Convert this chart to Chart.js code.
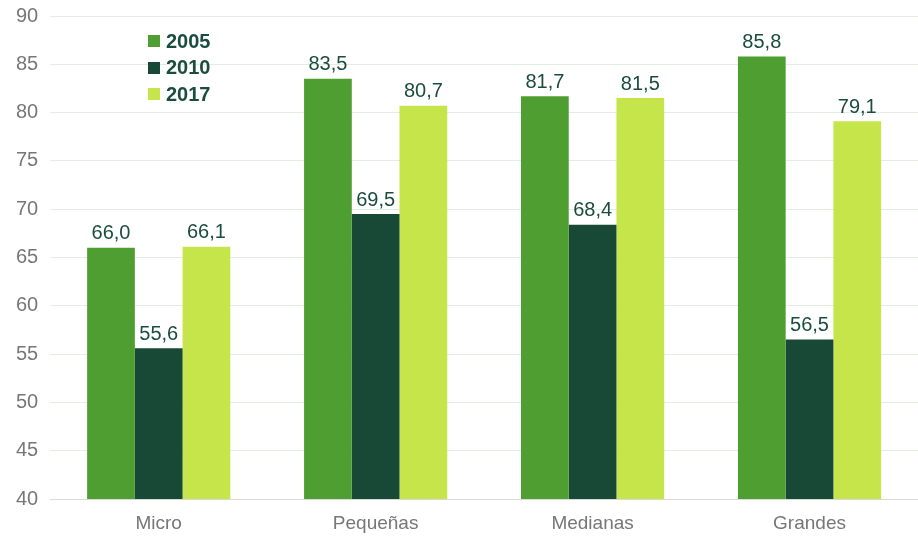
<!DOCTYPE html>
<html lang="es">
<head>
    <meta charset="UTF-8">
    <title>Empresas por tamaño</title>
    <script src="https://cdn.jsdelivr.net/npm/chart.js"></script>
    <style>
        html, body { margin: 0; padding: 0; background: #fff; }
        .wrap { position: relative; width: 918px; height: 537px; }
        .legend {
            position: absolute; left: 148px; top: 28px;
            font-family: "Liberation Sans", Arial, sans-serif;
            font-weight: bold; font-size: 20px; color: #1b4d3e;
        }
        .legend div { display: flex; align-items: center; height: 26.5px; }
        .legend span { display: inline-block; width: 12px; height: 12px; margin-right: 6px; }
    </style>
</head>
<body>
    <div class="wrap">
        <canvas id="barChart" width="918" height="537"></canvas>
        <div class="legend" id="legend"></div>
    </div>

    <script>
        // datos
        const categorias = ['Micro', 'Pequeñas', 'Medianas', 'Grandes'];
        const anios = ['2005', '2010', '2017'];
        const serie2005 = [66.0, 83.5, 81.7, 85.8];
        const serie2010 = [55.6, 69.5, 68.4, 56.5];
        const serie2017 = [66.1, 80.7, 81.5, 79.1];
        const colores = ['#4f9e31', '#184836', '#c5e54b'];

        const series = [serie2005, serie2010, serie2017];
        const fuente = 'Liberation Sans';

        // leyenda en html
        const legend = document.getElementById('legend');
        anios.forEach((a, i) => {
            const row = document.createElement('div');
            row.innerHTML = `<span style="background:${colores[i]}"></span>${a}`;
            legend.appendChild(row);
        });

        // etiquetas de valor sobre las barras
        const valueLabels = {
            id: 'valueLabels',
            afterDatasetsDraw(chart) {
                const ctx = chart.ctx;
                ctx.save();
                ctx.font = '20px "Liberation Sans"';
                ctx.fillStyle = '#1b4d3e';
                ctx.textAlign = 'center';
                ctx.textBaseline = 'bottom';
                chart.data.datasets.forEach((ds, i) => {
                    chart.getDatasetMeta(i).data.forEach((bar, j) => {
                        ctx.fillText(ds.data[j].toFixed(1).replace('.', ','), bar.x, bar.y - 4);
                    });
                });
                ctx.restore();
            }
        };

        const ctx = document.getElementById('barChart').getContext('2d');
        const chart = new Chart(ctx, {
            type: 'bar',
            data: {
                labels: categorias,
                datasets: anios.map((a, i) => ({
                    label: a,
                    data: series[i],
                    backgroundColor: colores[i],
                    categoryPercentage: 0.66,
                    barPercentage: 1.0
                }))
            },
            options: {
                responsive: false,
                animation: false,
                layout: { padding: { left: 4, right: 0, top: 0, bottom: 0 } },
                plugins: {
                    legend: { display: false },
                    tooltip: { enabled: false }
                },
                scales: {
                    x: {
                        grid: { display: false, drawTicks: false },
                        border: { color: '#d9d9d9' },
                        ticks: {
                            color: '#777',
                            font: { family: fuente, size: 19 },
                            padding: 13
                        },
                        afterFit(scale) { scale.height = 38; }
                    },
                    y: {
                        min: 40,
                        max: 90,
                        ticks: {
                            stepSize: 5,
                            color: '#777',
                            font: { family: fuente, size: 20, lineHeight: 0.4 },
                            padding: 12
                        },
                        border: { display: false },
                        grid: { color: '#e2eee2', drawTicks: false }
                    }
                }
            },
            plugins: [valueLabels]
        });
    </script>
</body>
</html>
